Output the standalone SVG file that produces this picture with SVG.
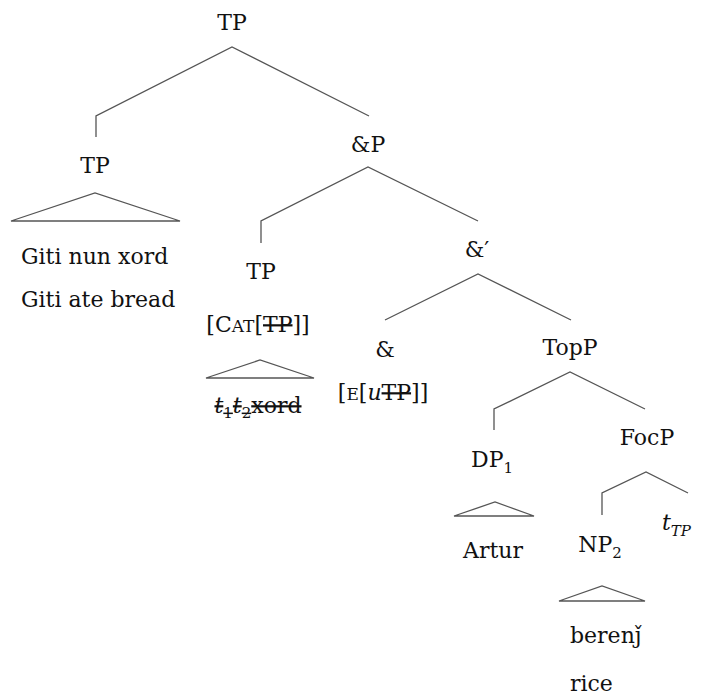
<svg xmlns="http://www.w3.org/2000/svg" width="709" height="695" viewBox="0 0 709 695">
<style>
text{font-family:"DejaVu Serif","Liberation Serif","Noto Serif",serif;font-size:22px;fill:#111}
.m{text-anchor:middle}
.it{font-style:italic}
.sc{font-size:17px}
.sub{font-size:15px}
.st{text-decoration:line-through}
#edges path{fill:none;stroke:#555;stroke-width:1.3}
</style>
<rect width="709" height="695" fill="#fff"/>
<g id="edges">
<path d="M96,137 V116 L232,47 L369,116"/>
<path d="M11,221 L95,193 L180,221 Z"/>
<path d="M261,243 V221 L368,167 L478,221"/>
<path d="M206,378 L260,360 L314,378 Z"/>
<path d="M385,320 L478,274 L571,320"/>
<path d="M494,430 V409 L570,372 L645,409"/>
<path d="M454,516 L495,502 L534,516 Z"/>
<path d="M602,515 V493 L646,472 L688,493"/>
<path d="M559,601 L602,586 L645,601 Z"/>
</g>
<g id="tp-root"><text class="m" x="232" y="30">TP</text></g>
<g id="tp-left"><text class="m" x="95" y="173">TP</text>
<text x="21" y="264">Giti nun xord</text>
<text x="21" y="307">Giti ate bread</text></g>
<g id="andP"><text class="m" x="368" y="152">&amp;P</text></g>
<g id="tp-mid"><text class="m" x="261" y="279">TP</text>
<text class="m" x="258" y="332">[C<tspan class="sc">AT</tspan>[<tspan class="st">TP</tspan>]]</text>
<text class="m st" x="258" y="413"><tspan class="it">t</tspan><tspan class="sub" dy="5">1</tspan><tspan class="it" dy="-5">t</tspan><tspan class="sub" dy="5">2</tspan><tspan dy="-5">xord</tspan></text></g>
<g id="andbar"><text class="m" x="477" y="257">&amp;′</text></g>
<g id="and"><text class="m" x="385" y="357">&amp;</text>
<text class="m" x="383" y="400">[<tspan class="sc">E</tspan>[<tspan class="it">u</tspan><tspan class="st">TP</tspan>]]</text></g>
<g id="topP"><text class="m" x="570" y="355">TopP</text></g>
<g id="dp1"><text class="m" x="492" y="467">DP<tspan class="sub" dy="6">1</tspan></text>
<text class="m" x="493" y="558">Artur</text></g>
<g id="focP"><text class="m" x="647" y="445">FocP</text></g>
<g id="np2"><text class="m" x="600" y="552">NP<tspan class="sub" dy="6">2</tspan></text>
<text x="570" y="643">berenǰ</text>
<text x="570" y="691">rice</text></g>
<g id="tTP"><text x="662" y="530"><tspan class="it">t</tspan><tspan class="it sub" dy="6">TP</tspan></text></g>
</svg>
